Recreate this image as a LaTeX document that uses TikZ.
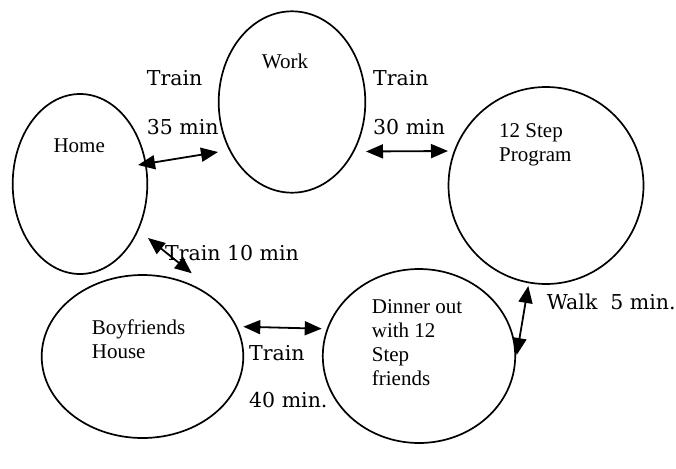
\documentclass[tikz,border=0pt]{standalone}
\usepackage{fontspec}
\setmainfont{Liberation Serif}
\newfontfamily\labelfont{DejaVu Serif}
\usetikzlibrary{shapes.geometric,arrows.meta,calc}

\tikzset{
  place/.style={draw=black, line width=1.7pt, ellipse, inner sep=0pt},
  placetext/.style={anchor=base west, inner sep=0pt, align=left,
    font=\fontsize{21}{24}\selectfont},
  timetext/.style={anchor=base west, inner sep=0pt,
    font=\labelfont\fontsize{20.5}{24}\selectfont},
  link/.style={draw=black, line width=1.8pt,
    {Triangle[length=17pt,width=14pt]}-{Triangle[length=17pt,width=14pt]}}
}

\begin{document}
\begin{tikzpicture}[x=1pt,y=-1pt]
\useasboundingbox (0,0) rectangle (676,468);

% places
\node[place, minimum width=134.6pt, minimum height=180pt] (home) at (80,184) {};
\node[place, minimum width=146.6pt, minimum height=181.4pt] (work) at (292,102) {};
\node[place, minimum width=195pt, minimum height=197pt] (step) at (546,185.5) {};
\node[place, minimum width=201.6pt, minimum height=163pt] (bf) at (142.5,356.5) {};
\node[place, minimum width=192.4pt, minimum height=174pt] (dinner) at (419,356) {};

% place names (multi-line names are anchored on their last baseline)
\node[placetext] (workname) at (261.7,69) {Work};
\node[placetext] (homename) at (53.3,152.3) {Home};
\node[placetext] (stepname) at (499,161) {12 Step\\Program};
\node[placetext] (bfname) at (91.7,358.3) {Boyfriends\\House};
\node[placetext] (dinnername) at (371.7,385.3) {Dinner out\\with 12\\Step\\friends};

% travel times
\node[timetext] (t1a) at (146.7,85.7) {Train};
\node[timetext] (t1b) at (146.7,134) {35 min};
\node[timetext] (t2a) at (373,85.7) {Train};
\node[timetext] (t2b) at (373,134) {30 min};
\node[timetext] (t3) at (165,260) {Train 10 min};
\node[timetext] (t4a) at (249,360) {Train};
\node[timetext] (t4b) at (249,407.5) {40 min.};
\node[timetext] (t5) at (546.7,309.3) {Walk\ \ 5 min.};

% connections
\draw[link] ($(home.center)+(58,-19)$) -- ($(work.center)+(-74,50)$);
\draw[link] ($(work.center)+(74,49.5)$) -- ($(step.center)+(-98,-34.5)$);
\draw[link] ($(home.center)+(68,54)$) -- ($(bf.center)+(49.3,-83.2)$);
\draw[link] ($(bf.center)+(100.8,-29.8)$) -- ($(dinner.center)+(-97.3,-27.3)$);
\draw[link] ($(step.center)+(-17.7,100.5)$) -- ($(dinner.center)+(97.7,-1)$);
\end{tikzpicture}
\end{document}
